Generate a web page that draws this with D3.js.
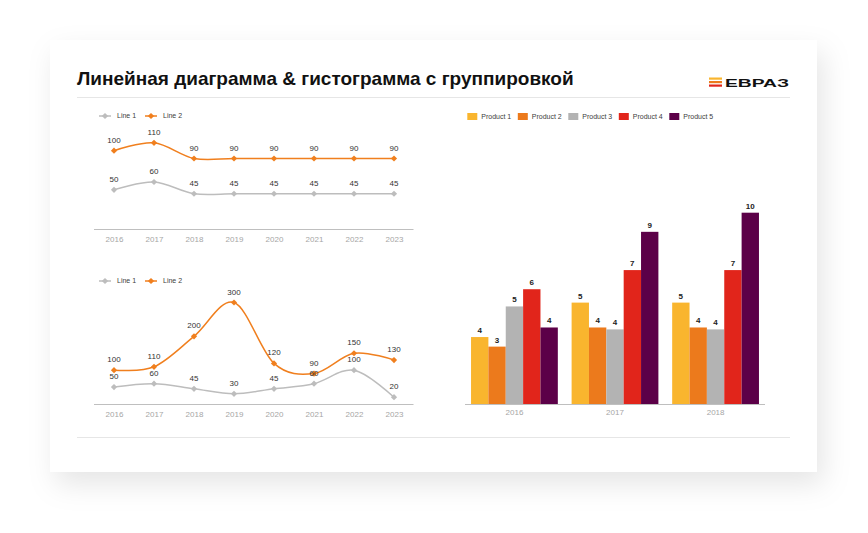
<!DOCTYPE html>
<html>
<head>
<meta charset="utf-8">
<script src="https://cdn.jsdelivr.net/npm/d3@7"></script>
<style>
  html, body { margin: 0; padding: 0; background: #ffffff; }
  svg { display: block; }
  text { font-family: "Liberation Sans", Arial, sans-serif; }
</style>
</head>
<body>
<svg id="chart" width="868" height="533"></svg>
<script>
// ---------- DATA ----------
const titleText = "Линейная диаграмма & гистограмма с группировкой";
const logoText = "ЕВРАЗ";
const years = ["2016", "2017", "2018", "2019", "2020", "2021", "2022", "2023"];
const lineNames = ["Line 1", "Line 2"];
const topLine1 = [50, 60, 45, 45, 45, 45, 45, 45];
const topLine2 = [100, 110, 90, 90, 90, 90, 90, 90];
const bottomLine1 = [50, 60, 45, 30, 45, 60, 100, 20];
const bottomLine2 = [100, 110, 200, 300, 120, 90, 150, 130];
const barYears = ["2016", "2017", "2018"];
const products = ["Product 1", "Product 2", "Product 3", "Product 4", "Product 5"];
const product1 = [3.5, 5.3, 5.3];
const product2 = [3.0, 4.0, 4.0];
const product3 = [5.1, 3.9, 3.9];
const product4 = [6.0, 7.0, 7.0];
const product5 = [4.0, 9.0, 10.0];

// ---------- STYLE ----------
const lineColors = ["#BDBDBD", "#F07F1E"];
const productColors = ["#F9B52E", "#EC7A1C", "#B3B3B3", "#E1251B", "#5C0048"];
const svg = d3.select("#chart");

// shadow filter
const defs = svg.append("defs");
const f = defs.append("filter").attr("id", "shadow")
  .attr("x", "-20%").attr("y", "-20%").attr("width", "140%").attr("height", "150%");
f.append("feDropShadow").attr("dx", 6).attr("dy", 12).attr("stdDeviation", 14)
  .attr("flood-color", "#000").attr("flood-opacity", 0.10);

svg.append("rect").attr("x", 50).attr("y", 40).attr("width", 767).attr("height", 432)
  .attr("fill", "#ffffff").attr("filter", "url(#shadow)");

// title
svg.append("text").attr("x", 77).attr("y", 85).text(titleText)
  .attr("font-size", 19).attr("font-weight", "bold").attr("fill", "#111");

// logo
const stripeColors = ["#F9B52E", "#EC7A1C", "#E1251B"];
stripeColors.forEach((c, i) => {
  svg.append("rect").attr("x", 709).attr("y", 77.5 + i * 3.5).attr("width", 13).attr("height", 2.2).attr("fill", c);
});
svg.append("text").attr("x", 725).attr("y", 86.5).text(logoText)
  .attr("font-size", 11.5).attr("font-weight", "bold").attr("fill", "#111")
  .attr("textLength", 64).attr("lengthAdjust", "spacingAndGlyphs");

// dividers
svg.append("line").attr("x1", 77).attr("x2", 790).attr("y1", 97.5).attr("y2", 97.5)
  .attr("stroke", "#e6e6e6").attr("stroke-width", 1);
svg.append("line").attr("x1", 77).attr("x2", 790).attr("y1", 437.5).attr("y2", 437.5)
  .attr("stroke", "#e6e6e6").attr("stroke-width", 1);

// ---------- LINE CHARTS ----------
function diamond(g, x, y, color) {
  g.append("rect").attr("x", -2.2).attr("y", -2.2).attr("width", 4.4).attr("height", 4.4)
    .attr("fill", color).attr("transform", `translate(${x},${y}) rotate(45)`);
}

function lineChart(opts) {
  const g = svg.append("g");
  const x = d3.scalePoint().domain(years).range([114, 394]);
  const y = d3.scaleLinear().domain([0, opts.ymax]).range([opts.base, opts.top]);

  // legend
  lineNames.forEach((name, i) => {
    const lx = 99 + i * 46;
    g.append("line").attr("x1", lx).attr("x2", lx + 12).attr("y1", opts.legendY).attr("y2", opts.legendY)
      .attr("stroke", lineColors[i]).attr("stroke-width", 1.5);
    diamond(g, lx + 6, opts.legendY, lineColors[i]);
    g.append("text").attr("x", lx + 18).attr("y", opts.legendY).attr("dy", "0.35em")
      .attr("font-size", 7).attr("fill", "#404040").text(name);
  });

  // axis
  const axis = g.append("g").attr("transform", `translate(0,${opts.base})`)
    .call(d3.axisBottom(x).tickSize(0).tickPadding(7));
  axis.select(".domain").remove();
  axis.append("line").attr("x1", 94).attr("x2", 413.5).attr("y1", 0.5).attr("y2", 0.5)
    .attr("stroke", "#bfbfbf").attr("stroke-width", 1);
  axis.selectAll(".tick text").attr("font-size", 8).attr("fill", "#a6a6a6")
    .attr("font-family", "Liberation Sans, Arial, sans-serif");

  const line = d3.line().x((d, i) => x(years[i])).y(d => y(d)).curve(d3.curveCatmullRom.alpha(0));
  const series = [opts.s1, opts.s2];
  series.forEach((s, k) => {
    g.append("path").datum(s).attr("d", line).attr("fill", "none")
      .attr("stroke", lineColors[k]).attr("stroke-width", 1.5);
  });
  series.forEach((s, k) => {
    s.forEach((v, i) => diamond(g, x(years[i]), y(v), lineColors[k]));
  });
  series.forEach((s, k) => {
    g.selectAll(null).data(s).enter().append("text")
      .attr("x", (d, i) => x(years[i])).attr("y", d => y(d) - 8)
      .attr("text-anchor", "middle").attr("font-size", 8).attr("fill", "#333")
      .text(d => d);
  });
}

lineChart({ s1: topLine1, s2: topLine2, ymax: 120, base: 229, top: 135, legendY: 116 });
lineChart({ s1: bottomLine1, s2: bottomLine2, ymax: 300, base: 404, top: 302.5, legendY: 281 });

// ---------- BAR CHART ----------
const productValues = [product1, product2, product3, product4, product5];
const bg = svg.append("g");
const x0 = d3.scaleBand().domain(barYears).range([465, 765]).paddingInner(0.137).paddingOuter(0.06);
const x1 = d3.scaleBand().domain(products).range([0, x0.bandwidth()]);
const yb = d3.scaleLinear().domain([0, 10]).range([404, 212.7]);

// legend
products.forEach((p, i) => {
  const lx = 467.3 + i * 50.5;
  bg.append("rect").attr("x", lx).attr("y", 113).attr("width", 10).attr("height", 7).attr("fill", productColors[i]);
  bg.append("text").attr("x", lx + 14).attr("y", 116.5).attr("dy", "0.35em")
    .attr("font-size", 7).attr("fill", "#404040").text(p);
});

barYears.forEach((yr, j) => {
  const grp = bg.append("g").attr("transform", `translate(${x0(yr)},0)`);
  products.forEach((p, i) => {
    const v = productValues[i][j];
    grp.append("rect").attr("x", x1(p)).attr("y", yb(v)).attr("width", x1.bandwidth())
      .attr("height", yb(0) - yb(v)).attr("fill", productColors[i]);
    grp.append("text").attr("x", x1(p) + x1.bandwidth() / 2).attr("y", yb(v) - 4)
      .attr("text-anchor", "middle").attr("font-size", 8).attr("font-weight", "bold")
      .attr("fill", "#222").text(Math.round(v));
  });
});

const bax = bg.append("g").attr("transform", "translate(0,404)")
  .call(d3.axisBottom(x0).tickSize(0).tickPadding(5));
bax.select(".domain").remove();
bax.append("line").attr("x1", 465).attr("x2", 765).attr("y1", 0.5).attr("y2", 0.5)
  .attr("stroke", "#bfbfbf").attr("stroke-width", 1);
bax.selectAll(".tick text").attr("font-size", 8).attr("fill", "#a6a6a6")
  .attr("font-family", "Liberation Sans, Arial, sans-serif");
</script>
</body>
</html>
